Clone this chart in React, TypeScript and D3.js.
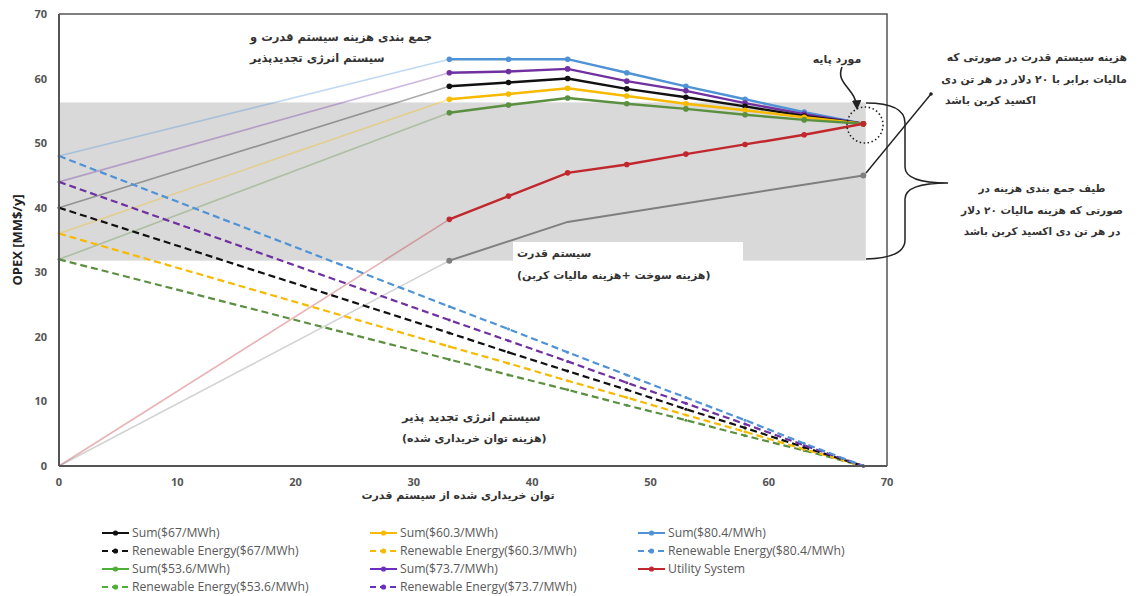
import React from "react";
import * as d3 from "d3";

// ---- data ----
const xValues = [0, 33, 38, 43, 48, 53, 58, 63, 68];
const sum804 = [48, 63, 63, 63, 60.9, 58.8, 56.8, 54.8, 53];
const sum737 = [44, 60.9, 61.1, 61.5, 59.6, 58.1, 56.2, 54.5, 53];
const sum67 = [40, 58.8, 59.4, 60.0, 58.4, 57.1, 55.7, 54.2, 53];
const sum603 = [36, 56.8, 57.6, 58.5, 57.3, 56.1, 55.1, 54.0, 53];
const sum536 = [32, 54.7, 55.9, 57.0, 56.1, 55.3, 54.4, 53.6, 53];
const ren804 = [48, 24.7, 21.2, 17.6, 14.1, 10.6, 7.1, 3.5, 0];
const ren737 = [44, 22.6, 19.4, 16.2, 12.9, 9.7, 6.5, 3.2, 0];
const ren67 = [40, 20.6, 17.6, 14.7, 11.8, 8.8, 5.9, 2.9, 0];
const ren603 = [36, 18.5, 15.9, 13.2, 10.6, 7.9, 5.3, 2.6, 0];
const ren536 = [32, 16.5, 14.1, 11.8, 9.4, 7.1, 4.7, 2.4, 0];
const utility = [0, 38.2, 41.8, 45.4, 46.7, 48.3, 49.8, 51.3, 53];
const taxX = [0, 33, 43, 68];
const taxY = [0, 31.8, 37.8, 45];
const taxMarkers = [33, 68];
const bandX = [0, 68.2];
const bandY = [31.8, 56.3];
const xTicks = [0, 10, 20, 30, 40, 50, 60, 70];
const yTicks = [0, 10, 20, 30, 40, 50, 60, 70];
const fadeUntil = 33;

const C = {
  blue: "#4F93D6",
  purple: "#7030A0",
  black: "#111111",
  yellow: "#F7BA00",
  green: "#5A9040",
  red: "#C0282D",
  gray: "#7F7F7F",
};

type Series = { name: string; values: number[]; color: string; dashed: boolean };

const sumSeries: Series[] = [
  { name: "Sum($80.4/MWh)", values: sum804, color: C.blue, dashed: false },
  { name: "Sum($73.7/MWh)", values: sum737, color: C.purple, dashed: false },
  { name: "Sum($67/MWh)", values: sum67, color: C.black, dashed: false },
  { name: "Sum($60.3/MWh)", values: sum603, color: C.yellow, dashed: false },
  { name: "Sum($53.6/MWh)", values: sum536, color: C.green, dashed: false },
  { name: "Utility System", values: utility, color: C.red, dashed: false },
];
const renSeries: Series[] = [
  { name: "Renewable Energy($53.6/MWh)", values: ren536, color: C.green, dashed: true },
  { name: "Renewable Energy($60.3/MWh)", values: ren603, color: C.yellow, dashed: true },
  { name: "Renewable Energy($67/MWh)", values: ren67, color: C.black, dashed: true },
  { name: "Renewable Energy($73.7/MWh)", values: ren737, color: C.purple, dashed: true },
  { name: "Renewable Energy($80.4/MWh)", values: ren804, color: C.blue, dashed: true },
];

const legendCols: { name: string; color: string; dashed: boolean }[][] = [
  [
    { name: "Sum($67/MWh)", color: C.black, dashed: false },
    { name: "Renewable Energy($67/MWh)", color: C.black, dashed: true },
    { name: "Sum($53.6/MWh)", color: "#4CB035", dashed: false },
    { name: "Renewable Energy($53.6/MWh)", color: "#4CB035", dashed: true },
  ],
  [
    { name: "Sum($60.3/MWh)", color: C.yellow, dashed: false },
    { name: "Renewable Energy($60.3/MWh)", color: C.yellow, dashed: true },
    { name: "Sum($73.7/MWh)", color: "#6A2FC0", dashed: false },
    { name: "Renewable Energy($73.7/MWh)", color: "#6A2FC0", dashed: true },
  ],
  [
    { name: "Sum($80.4/MWh)", color: C.blue, dashed: false },
    { name: "Renewable Energy($80.4/MWh)", color: C.blue, dashed: true },
    { name: "Utility System", color: C.red, dashed: false },
  ],
];

const W = 1140;
const H = 596;
const x = d3.scaleLinear().domain([0, 70]).range([59, 887]);
const y = d3.scaleLinear().domain([0, 70]).range([466, 14]);
const line = d3
  .line<[number, number]>()
  .x((d) => x(d[0]))
  .y((d) => y(d[1]));

const persian = "'DejaVu Sans', sans-serif";
const latin = "'Open Sans', 'Liberation Sans', sans-serif";

export default function App() {
  const pts = (vals: number[]) => xValues.map((xv, i) => [xv, vals[i]] as [number, number]);
  const taxPts = taxX.map((xv, i) => [xv, taxY[i]] as [number, number]);

  return (
    <svg
      width={W}
      height={H}
      viewBox={`0 0 ${W} ${H}`}
      style={{ position: "absolute", left: 0, top: 0, background: "#fff" }}
    >
      <defs>
        <marker id="arr" viewBox="0 0 10 10" refX="8" refY="5" markerWidth="6" markerHeight="6" orient="auto">
          <path d="M0,0 L10,5 L0,10 z" fill="#222" />
        </marker>
      </defs>

      {/* gray band */}
      <rect
        x={x(bandX[0])}
        y={y(bandY[1])}
        width={x(bandX[1]) - x(bandX[0])}
        height={y(bandY[0]) - y(bandY[1])}
        fill="#D9D9D9"
      />
      {/* white label box */}
      <rect x={513} y={242} width={230} height={y(bandY[0]) - 242 + 1} fill="#fff" />

      {/* faded leading segments */}
      {sumSeries.map((s) => (
        <path
          key={"f" + s.name}
          d={line(pts(s.values).filter((p) => p[0] <= fadeUntil)) || ""}
          fill="none"
          stroke={s.color}
          strokeOpacity={0.35}
          strokeWidth={1.6}
        />
      ))}
      <path
        d={line(taxPts.filter((p) => p[0] <= fadeUntil)) || ""}
        fill="none"
        stroke={C.gray}
        strokeOpacity={0.35}
        strokeWidth={1.6}
      />

      {/* tax line */}
      <path
        d={line(taxPts.filter((p) => p[0] >= fadeUntil)) || ""}
        fill="none"
        stroke={C.gray}
        strokeWidth={2}
      />
      {taxPts
        .filter((p) => taxMarkers.includes(p[0]))
        .map((p, i) => (
          <circle key={"tm" + i} cx={x(p[0])} cy={y(p[1])} r={3} fill={C.gray} />
        ))}

      {/* renewable dashed lines */}
      {renSeries.map((s) => (
        <g key={s.name}>
          <path
            d={line(pts(s.values)) || ""}
            fill="none"
            stroke={s.color}
            strokeWidth={2.2}
            strokeDasharray="7,4"
          />
          {pts(s.values).map((p, i) => (
            <circle key={i} cx={x(p[0])} cy={y(p[1])} r={1.5} fill={s.color} />
          ))}
        </g>
      ))}

      {/* sum + utility solid lines */}
      {sumSeries.map((s) => (
        <g key={s.name}>
          <path
            d={line(pts(s.values).filter((p) => p[0] >= fadeUntil)) || ""}
            fill="none"
            stroke={s.color}
            strokeWidth={2.4}
          />
          {pts(s.values)
            .filter((p) => p[0] >= fadeUntil)
            .map((p, i) => (
              <circle key={i} cx={x(p[0])} cy={y(p[1])} r={2.8} fill={s.color} />
            ))}
        </g>
      ))}

      {/* plot frame */}
      <path d={`M${x(0)},${y(70)} H${x(70)} V${y(0)}`} fill="none" stroke="#555" strokeWidth={1.5} />
      <line x1={x(0)} y1={y(70)} x2={x(0)} y2={y(0)} stroke="#555" strokeWidth={2} />
      <line x1={x(0)} y1={y(0)} x2={x(70)} y2={y(0)} stroke="#555" strokeWidth={2} />

      {/* ticks */}
      {xTicks.map((t) => (
        <text
          key={"x" + t}
          x={x(t)}
          y={486}
          textAnchor="middle"
          fontFamily={latin}
          fontWeight="bold"
          fontSize={11}
          fill="#555"
        >
          {t}
        </text>
      ))}
      {yTicks.map((t) => (
        <text
          key={"y" + t}
          x={47}
          y={y(t) + 4}
          textAnchor="end"
          fontFamily={latin}
          fontWeight="bold"
          fontSize={11}
          fill="#555"
        >
          {t}
        </text>
      ))}

      {/* axis titles */}
      <text
        transform={`translate(22,240) rotate(-90)`}
        textAnchor="middle"
        fontFamily={latin}
        fontWeight="bold"
        fontSize={13}
        fill="#222"
      >
        OPEX [MM$/y]
      </text>
      <text x={458} y={499} textAnchor="middle" direction="rtl" fontFamily={persian} fontWeight="bold" fontSize={11} fill="#333">
        توان خریداری شده از سیستم قدرت
      </text>

      {/* annotations */}
      <g fontFamily={persian} fontWeight="bold" fontSize={11} fill="#333">
        <text x={250} y={41} fontSize={11.5} direction="rtl" textAnchor="end">جمع بندی هزینه سیستم قدرت و</text>
        <text x={250} y={62} fontSize={11.5} direction="rtl" textAnchor="end">سیستم انرژی تجدیدپذیر</text>

        <text x={837} y={63} direction="rtl" textAnchor="middle">مورد پایه</text>

        <text x={1127} y={61} fontSize={10.8} direction="rtl" textAnchor="start">هزینه سیستم قدرت در صورتی که</text>
        <text x={1127} y={83} fontSize={10.8} direction="rtl" textAnchor="start">مالیات برابر با ۲۰ دلار در هر تن دی</text>
        <text x={945} y={104} fontSize={10.8} direction="rtl" textAnchor="end">اکسید کربن باشد</text>

        <text x={1042} y={192} fontSize={10.5} direction="rtl" textAnchor="middle">طیف جمع بندی هزینه در</text>
        <text x={1042} y={214} fontSize={10.5} direction="rtl" textAnchor="middle">صورتی که هزینه مالیات ۲۰ دلار</text>
        <text x={1042} y={235} fontSize={10.5} direction="rtl" textAnchor="middle">در هر تن دی اکسید کربن باشد</text>

        <text x={517} y={257} direction="rtl" textAnchor="end">سیستم قدرت</text>
        <text x={517} y={279} direction="rtl" textAnchor="end">(هزینه سوخت +هزینه مالیات کربن)</text>

        <text x={402} y={421} fontSize={11.5} direction="rtl" textAnchor="end">سیستم انرژی تجدید پذیر</text>
        <text x={402} y={442} direction="rtl" textAnchor="end">(هزینه توان خریداری شده)</text>
      </g>

      {/* base case circle + arrow */}
      <circle cx={865} cy={125} r={18} fill="none" stroke="#222" strokeWidth={1.6} strokeDasharray="1.5,2.5" />
      <path d="M842,67 C835,84 856,88 857,108" fill="none" stroke="#222" strokeWidth={1.6} markerEnd="url(#arr)" />

      {/* pointer line */}
      <line x1={931} y1={94} x2={866} y2={173} stroke="#222" strokeWidth={1.4} />
      <circle cx={931} cy={94} r={1.8} fill="#222" />

      {/* brace */}
      <path
        d="M866,103 Q905,103 905,123 L905,167 Q905,183 948,183 Q905,183 905,199 L905,240 Q905,258 866,259"
        fill="none"
        stroke="#222"
        strokeWidth={1.5}
      />

      {/* legend */}
      {legendCols.map((col, ci) =>
        col.map((it, ri) => {
          const lx = [102, 370, 638][ci];
          const ly = 533 + ri * 18;
          return (
            <g key={ci + "-" + ri}>
              <line
                x1={lx}
                y1={ly}
                x2={lx + 27}
                y2={ly}
                stroke={it.color}
                strokeWidth={2}
                strokeDasharray={it.dashed ? "6,4" : undefined}
              />
              <circle cx={lx + 13.5} cy={ly} r={2.6} fill={it.color} />
              <text
                x={lx + 30}
                y={ly + 4}
                fontFamily={latin}
                fontSize={12.2}
                fill="#595959"
              >
                {it.name}
              </text>
            </g>
          );
        })
      )}
    </svg>
  );
}
